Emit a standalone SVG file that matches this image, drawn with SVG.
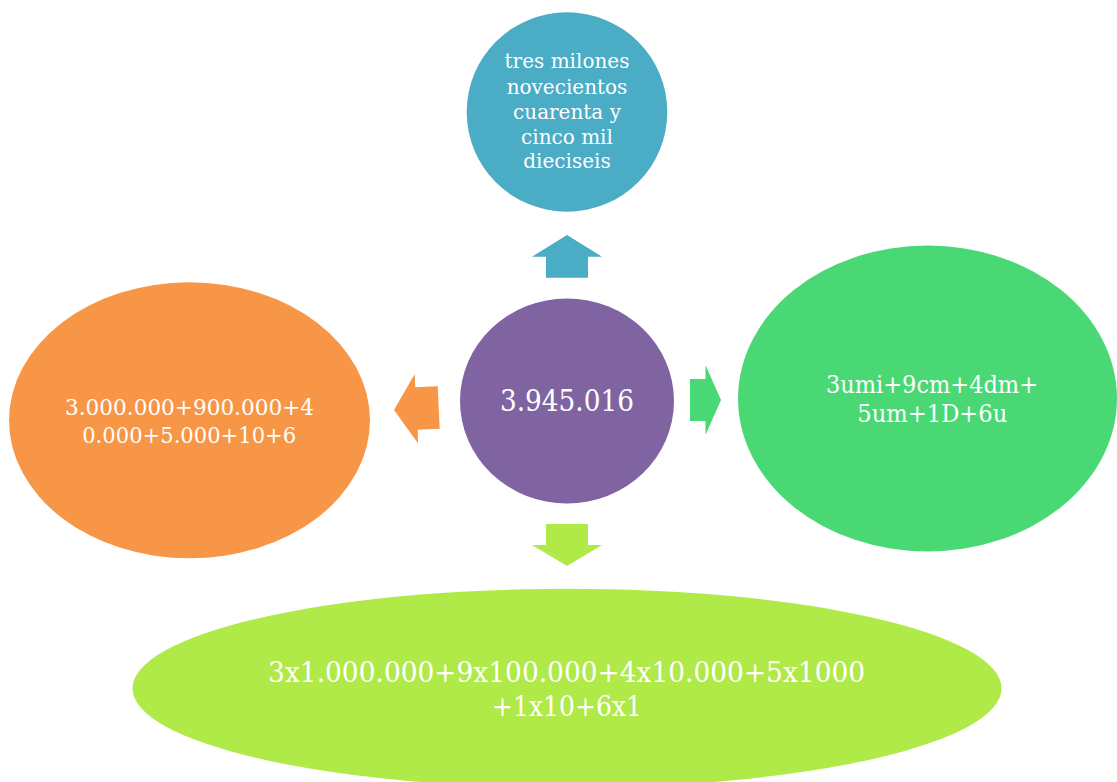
<svg xmlns="http://www.w3.org/2000/svg" width="1117" height="782" viewBox="0 0 1117 782">
<style>
text{font-family:"DejaVu Serif","Liberation Serif",serif;fill:#FFFFFF;text-anchor:middle}
.blue{fill:#4BACC6}.purple{fill:#8064A2}.orange{fill:#F79646}.green{fill:#4AD874}.lime{fill:#AFEA48}
</style>
<rect x="0" y="0" width="1117" height="782" fill="#FFFFFF"/>
<g id="connectors">
<polygon class="blue" points="567,235 602,256.7 588,256.7 588,277.7 546,277.7 546,256.7 532,256.7"/>
<polygon class="lime" points="546,524 588,524 588,545 602,545 567,566 532,545 546,545"/>
<polygon class="green" points="690,379 705.5,379 705.5,365 721,400 705.5,435 705.5,421 690,421"/>
<polygon class="orange" points="394,410 414.7,374 415.3,387.3 437.7,386.3 439.7,428.7 417.7,429.7 418,443.3"/>
</g>
<g id="node-top">
<ellipse class="blue" cx="567" cy="112" rx="100.3" ry="99.7"/>
<text font-size="20"><tspan x="567" y="68.3">tres milones</tspan><tspan x="567" y="94">novecientos</tspan><tspan x="567" y="119">cuarenta y</tspan><tspan x="567" y="144">cinco mil</tspan><tspan x="567" y="168.3">dieciseis</tspan></text>
</g>
<g id="node-center">
<ellipse class="purple" cx="567" cy="401" rx="107" ry="102.5"/>
<text font-size="30" x="567" y="411" textLength="134" lengthAdjust="spacingAndGlyphs">3.945.016</text>
</g>
<g id="node-left">
<ellipse class="orange" cx="189.5" cy="420.3" rx="180.5" ry="138"/>
<text font-size="22" x="189.5" y="415" textLength="249" lengthAdjust="spacingAndGlyphs">3.000.000+900.000+4</text>
<text font-size="22" x="189.2" y="442.7" textLength="214" lengthAdjust="spacingAndGlyphs">0.000+5.000+10+6</text>
</g>
<g id="node-right">
<ellipse class="green" cx="927.5" cy="398.5" rx="189.5" ry="153"/>
<text font-size="24" x="932" y="392.7" textLength="212" lengthAdjust="spacingAndGlyphs">3umi+9cm+4dm+</text>
<text font-size="24" x="932.3" y="421.7" textLength="150" lengthAdjust="spacingAndGlyphs">5um+1D+6u</text>
</g>
<g id="node-bottom">
<ellipse class="lime" cx="567" cy="688.3" rx="434.5" ry="99.5"/>
<text font-size="28" x="566.6" y="682.3" textLength="597" lengthAdjust="spacingAndGlyphs">3x1.000.000+9x100.000+4x10.000+5x1000</text>
<text font-size="28" x="567" y="716" textLength="150" lengthAdjust="spacingAndGlyphs">+1x10+6x1</text>
</g>
</svg>
